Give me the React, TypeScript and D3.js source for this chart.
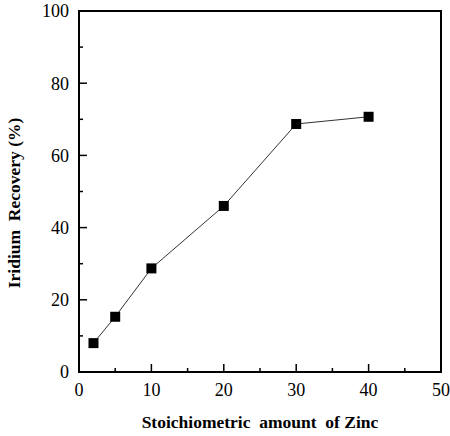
import React, { useEffect, useRef } from "react";
import * as d3 from "d3";

const zincAmount = [2, 5, 10, 20, 30, 40];
const recovery = [8, 15.3, 28.7, 46, 68.7, 70.7];
const xTicks = [0, 10, 20, 30, 40, 50];
const yTicks = [0, 20, 40, 60, 80, 100];

const FONT = "Liberation Serif, Times New Roman, DejaVu Serif, serif";

export default function App() {
  const ref = useRef<HTMLDivElement>(null);

  useEffect(() => {
    const width = 450;
    const height = 436;
    const left = 79;
    const right = 441;
    const top = 11;
    const bottom = 372;

    d3.select(ref.current).select("svg").remove();

    const svg = d3
      .select(ref.current)
      .append("svg")
      .attr("width", width)
      .attr("height", height)
      .style("display", "block");

    const x = d3.scaleLinear().domain([0, 50]).range([left, right]);
    const y = d3.scaleLinear().domain([0, 100]).range([bottom, top]);

    // frame
    svg
      .append("rect")
      .attr("x", left)
      .attr("y", top)
      .attr("width", right - left)
      .attr("height", bottom - top)
      .attr("fill", "none")
      .attr("stroke", "black")
      .attr("stroke-width", 2);

    // ticks (inward) on bottom and left
    d3.range(0, 51, 5).forEach((v) => {
      const major = v % 10 === 0;
      svg
        .append("line")
        .attr("x1", x(v))
        .attr("x2", x(v))
        .attr("y1", bottom)
        .attr("y2", bottom - (major ? 8 : 4))
        .attr("stroke", "black")
        .attr("stroke-width", 1.5);
    });
    d3.range(0, 101, 10).forEach((v) => {
      const major = v % 20 === 0;
      svg
        .append("line")
        .attr("x1", left)
        .attr("x2", left + (major ? 8 : 4))
        .attr("y1", y(v))
        .attr("y2", y(v))
        .attr("stroke", "black")
        .attr("stroke-width", 1.5);
    });

    svg
      .selectAll("text.xt")
      .data(xTicks)
      .enter()
      .append("text")
      .attr("x", (d) => x(d))
      .attr("y", 396)
      .attr("text-anchor", "middle")
      .attr("font-family", FONT)
      .attr("font-size", 18)
      .text((d) => d);

    svg
      .selectAll("text.yt")
      .data(yTicks)
      .enter()
      .append("text")
      .attr("x", 69)
      .attr("y", (d) => y(d))
      .attr("dy", "0.35em")
      .attr("text-anchor", "end")
      .attr("font-family", FONT)
      .attr("font-size", 18)
      .text((d) => d);

    const pts = zincAmount.map((d, i) => [d, recovery[i]] as [number, number]);

    svg
      .append("path")
      .datum(pts)
      .attr("d", d3.line<[number, number]>().x((d) => x(d[0])).y((d) => y(d[1])))
      .attr("fill", "none")
      .attr("stroke", "#333")
      .attr("stroke-width", 1);

    const s = 10;
    svg
      .selectAll("rect.pt")
      .data(pts)
      .enter()
      .append("rect")
      .attr("x", (d) => x(d[0]) - s / 2)
      .attr("y", (d) => y(d[1]) - s / 2)
      .attr("width", s)
      .attr("height", s)
      .attr("fill", "black");

    svg
      .append("text")
      .attr("x", 260)
      .attr("y", 428)
      .attr("text-anchor", "middle")
      .attr("font-family", FONT)
      .attr("font-size", 17.5)
      .attr("font-weight", "bold")
      .style("white-space", "pre")
      .text("Stoichiometric  amount  of Zinc");

    svg
      .append("text")
      .attr("transform", "translate(20, 203) rotate(-90)")
      .attr("text-anchor", "middle")
      .attr("font-family", FONT)
      .attr("font-size", 17.5)
      .attr("font-weight", "bold")
      .style("white-space", "pre")
      .text("Iridium  Recovery (%)");
  }, []);

  return <div ref={ref} style={{ position: "absolute", left: 0, top: 0 }}></div>;
}
